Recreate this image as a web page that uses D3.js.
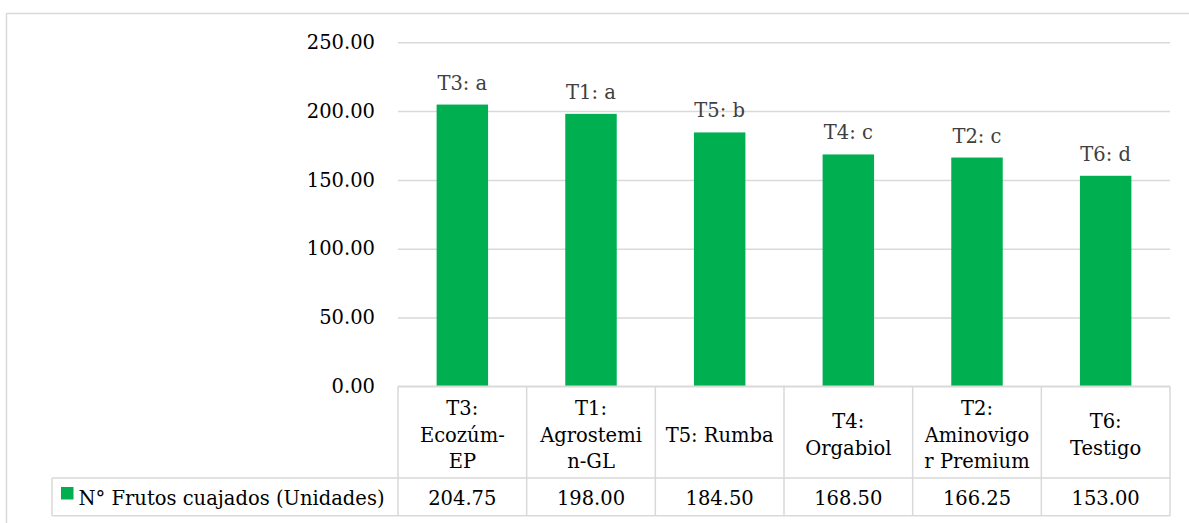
<!DOCTYPE html>
<html><head><meta charset="utf-8">
<script src="https://cdn.jsdelivr.net/npm/d3@7"></script>
<style>body{margin:0;background:#fff} svg{display:block}</style>
</head><body>
<svg id="c" width="1189" height="523"></svg>
<script>
const categories = ["T3: Ecozúm-EP","T1: Agrostemin-GL","T5: Rumba","T4: Orgabiol","T2: Aminovigor Premium","T6: Testigo"];
const categoryLines = [["T3:","Ecozúm-","EP"],["T1:","Agrostemi","n-GL"],["T5: Rumba"],["T4:","Orgabiol"],["T2:","Aminovigo","r Premium"],["T6:","Testigo"]];
const values = [204.75,198.00,184.50,168.50,166.25,153.00];
const dataLabels = ["T3: a","T1: a","T5: b","T4: c","T2: c","T6: d"];
const seriesName = "N° Frutos cuajados (Unidades)";
const yTicks = [0,50,100,150,200,250];

const FONT = "'DejaVu Serif', serif";
const FS = 19.5;
const GRID = "#D9D9D9";
const svg = d3.select("#c");

// outer chart border
svg.append("rect").attr("x",6.5).attr("y",13.5).attr("width",1400).attr("height",700)
  .attr("fill","none").attr("stroke",GRID).attr("stroke-width",1.5);

const plotL = 398, plotR = 1170, plotT = 42.3, plotB = 386.3;
const x = d3.scaleBand().domain(categories).range([plotL, plotR]).paddingInner(0.6).paddingOuter(0.3);
const y = d3.scaleLinear().domain([0,250]).range([plotB, plotT]);

// gridlines + y axis
const ax = svg.append("g").attr("transform",`translate(${plotL},0)`)
  .call(d3.axisLeft(y).tickValues(yTicks).tickFormat(d3.format(".2f"))
    .tickSizeInner(-(plotR-plotL)).tickSizeOuter(0).tickPadding(23));
ax.select(".domain").remove();
ax.selectAll(".tick line").attr("stroke",GRID).attr("stroke-width",1.5);
ax.selectAll(".tick text").attr("font-family",FONT).attr("font-size",FS).attr("fill","#000");

// bars
svg.append("g").selectAll("rect").data(values).join("rect")
  .attr("x",(d,i)=>x(categories[i])).attr("width",x.bandwidth())
  .attr("y",d=>y(d)).attr("height",d=>y(0)-y(d)).attr("fill","#00B050");

// data labels
svg.append("g").selectAll("text").data(values).join("text")
  .attr("x",(d,i)=>x(categories[i])+x.bandwidth()/2).attr("y",d=>y(d)-15)
  .attr("text-anchor","middle").attr("font-family",FONT).attr("font-size",FS)
  .attr("fill","#404040").text((d,i)=>dataLabels[i]);

// data table
const step = x.step();
const colLeft = i => x(categories[i]) - (step - x.bandwidth())/2;
const row1T = y(0), row1B = 478, row2B = 515.7, legL = 52;
const tbl = svg.append("g").attr("stroke",GRID).attr("stroke-width",1.5);
tbl.append("line").attr("x1",plotL).attr("x2",plotR).attr("y1",row1T).attr("y2",row1T);
tbl.append("line").attr("x1",legL).attr("x2",plotR).attr("y1",row1B).attr("y2",row1B);
tbl.append("line").attr("x1",legL).attr("x2",plotR).attr("y1",row2B).attr("y2",row2B);
tbl.append("line").attr("x1",legL).attr("x2",legL).attr("y1",row1B).attr("y2",row2B);
const bounds = categories.map((c,i)=>colLeft(i)).concat([plotR]);
tbl.selectAll(".v").data(bounds).join("line")
  .attr("x1",d=>d).attr("x2",d=>d).attr("y1",row1T).attr("y2",row2B);

// category text
const midC = (row1T + row1B)/2, lh = 26.5;
categoryLines.forEach((lines,i)=>{
  const cx = x(categories[i]) + x.bandwidth()/2;
  const t = svg.append("text").attr("text-anchor","middle").attr("font-family",FONT)
    .attr("font-size",FS).attr("fill","#000");
  lines.forEach((ln,j)=>{
    t.append("tspan").attr("x",cx).attr("y",midC - (lines.length-1)/2*lh + 9.5 + j*lh).text(ln);
  });
});

// value row
svg.append("g").selectAll("text").data(values).join("text")
  .attr("x",(d,i)=>x(categories[i])+x.bandwidth()/2).attr("y",505)
  .attr("text-anchor","middle").attr("font-family",FONT).attr("font-size",FS)
  .attr("fill","#000").text(d=>d3.format(".2f")(d));

// legend key
svg.append("rect").attr("x",61).attr("y",487).attr("width",12.5).attr("height",12.5).attr("fill","#00B050");
svg.append("text").attr("x",78.5).attr("y",505).attr("font-family",FONT).attr("font-size",FS)
  .attr("fill","#000").text(seriesName);
</script>
</body></html>
